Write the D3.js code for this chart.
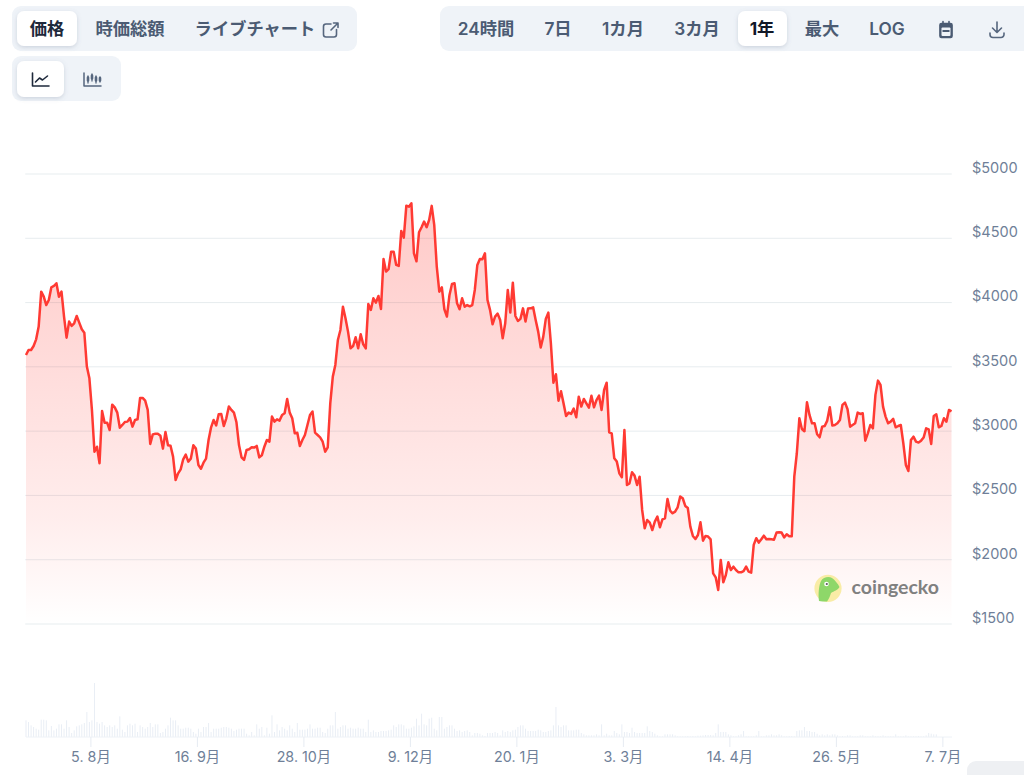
<!DOCTYPE html>
<html lang="ja">
<head>
<meta charset="utf-8">
<script src="https://cdn.jsdelivr.net/npm/d3@7"></script>
<style>
html,body{margin:0;padding:0;background:#fff;overflow:hidden}
svg{display:block}
text{font-family:Inter,"Noto Sans CJK JP",sans-serif}
</style>
</head>
<body>
<svg id="c" width="1024" height="775"></svg>
<script>
const prices = [3592,3631,3631,3662,3714,3813,4085,4046,3981,4020,
4119,4129,4150,4046,4085,3891,3727,3852,3818,3839,
3896,3844,3792,3766,3502,3411,3165,2840,2879,2750,
3157,3066,3066,3009,3206,3185,3144,3027,3048,3071,
3074,3102,3035,3087,3092,3258,3258,3237,3165,2900,
2975,2980,2980,2965,2864,2993,2890,2887,2802,2620,
2672,2703,2781,2817,2763,2786,2890,2864,2737,2708,
2755,2786,2931,3030,3087,3045,3131,3134,3040,3100,
3191,3165,3144,3069,2892,2796,2776,2854,2859,2874,
2872,2885,2796,2812,2879,2931,2918,3113,3074,3092,
3082,3126,3139,3250,3144,3100,2983,2988,2885,2931,
2970,3048,3126,3152,2988,2970,2952,
2918,2840,2874,3216,3424,3515,3709,3787,3968,3878,
3774,3644,3662,3730,3644,3753,3675,3644,3989,3943,
4033,4000,4051,3950,4339,4241,4261,4396,4396,4293,
4285,4557,4505,4754,4746,4772,4383,4321,4547,4586,
4630,4586,4643,4752,4604,4280,4085,4119,3948,3891,
4057,4145,4150,3994,3948,4033,3968,3981,3971,3981,
4098,4293,4339,4337,4383,4020,3943,3831,3891,3914,
3865,3722,3839,4098,3922,4155,3896,3857,3873,3955,
3852,3953,3955,3963,3865,3774,3650,3735,3873,3922,
3683,3377,3442,3237,3310,3216,3118,3144,3134,3175,
3108,3268,3191,3250,3216,3183,3276,3185,3242,3276,
3165,3320,3377,2991,2983,2789,2763,2672,2641,3009,
2581,2594,2680,2654,2581,2646,
2387,2244,2309,2288,2231,2296,2335,2252,2314,2322,
2473,2382,2361,2374,2408,2491,2478,2418,2402,2257,
2185,2161,2192,2291,2148,2185,2180,2159,1894,1863,
1765,1998,1824,1881,1980,1920,1946,1920,1902,1902,
1912,1946,1907,1899,2115,2167,2133,2159,2187,2159,
2161,2159,2156,2211,2213,2211,2174,2198,2182,2182,
2646,2828,3100,3017,2999,3224,3126,3061,3061,2976,
2952,3035,3040,3082,3186,3043,3048,3061,3087,3204,
3222,3170,3035,3048,3061,3144,3134,3139,2926,2983,
3048,3022,3282,3393,3359,3191,3113,3061,3074,3095,
3030,3040,3048,2906,2737,2690,2931,2957,2918,2911,
2926,2950,3022,3014,2900,3118,3131,3030,3040,3100,
3074,3165,3154];

const volumes = [50,45,35,30,25,22,52,52,50,20,33,20,25,38,38,25,50,30,12,20,
32,35,38,42,75,45,50,162,45,40,45,35,30,35,30,35,25,62,22,15,
35,40,35,40,15,35,30,25,30,42,30,38,38,12,15,25,35,58,50,50,
35,25,25,28,28,25,15,10,25,15,30,30,42,15,25,25,25,28,30,30,
28,25,18,22,25,25,25,10,5,15,5,38,25,30,5,28,10,65,15,38,
20,30,25,20,35,25,15,42,22,22,22,25,38,25,25,28,28,15,12,25,
35,35,75,25,30,35,35,25,28,25,25,28,25,25,15,52,15,20,15,15,
18,18,18,20,22,35,30,38,38,35,25,25,28,32,55,35,70,38,35,55,
58,25,20,60,60,25,30,35,35,25,18,20,15,18,20,15,5,12,12,10,
5,3,12,12,12,15,12,5,20,15,18,15,20,22,30,35,35,25,18,18,18,18,
22,20,15,15,18,20,35,90,35,30,35,35,20,20,20,22,22,12,8,5,
5,5,5,8,5,38,5,10,5,5,18,12,8,38,15,15,12,28,15,12,
12,12,12,32,18,15,10,5,2,2,8,8,8,8,5,2,2,2,2,3,
2,3,2,4,4,5,6,6,6,5,12,38,15,15,15,8,5,2,2,5,
8,18,2,2,2,2,5,18,2,2,5,5,8,5,5,8,5,2,2,3,
3,2,18,20,20,30,18,18,15,15,10,5,8,5,8,5,8,8,5,2,
3,2,5,5,2,2,2,5,5,2,2,2,5,2,2,2,5,2,2,2,
2,8,2,2,2,5,2,2,2,2,3,2,2,5,12,10,8,8];

const priceTicks = [1500,2000,2500,3000,3500,4000,4500,5000];
const dateTickDays = [25.4,67.4,109.4,151.4,193.4,235.4,277.4,319.4,361.4];
const dateTickLabels = ["5. 8月","16. 9月","28. 10月","9. 12月","20. 1月","3. 3月","14. 4月","26. 5月","7. 7月"];
const rangeButtons = ["24時間","7日","1カ月","3カ月","1年","最大","LOG"];
const rangeCenters = [486,558,623,697,762,822,887];
const viewButtons = ["価格","時価総額","ライブチャート"];
const viewCenters = [47,130,255];

const svg = d3.select("#c");
const defs = svg.append("defs");
const grad = defs.append("linearGradient").attr("id","fill").attr("gradientUnits","userSpaceOnUse")
  .attr("x1",0).attr("x2",0).attr("y1",204).attr("y2",624);
grad.append("stop").attr("offset",0).attr("stop-color","#ff3a33").attr("stop-opacity",.27);
grad.append("stop").attr("offset",.75).attr("stop-color","#ff3a33").attr("stop-opacity",.09);
grad.append("stop").attr("offset",1).attr("stop-color","#ff3a33").attr("stop-opacity",0);
const sh = defs.append("filter").attr("id","sh").attr("x","-20%").attr("y","-20%").attr("width","140%").attr("height","150%");
sh.append("feDropShadow").attr("dx",0).attr("dy",1.5).attr("stdDeviation",2).attr("flood-color","#64748b").attr("flood-opacity",.25);

const x = d3.scaleLinear().domain([0,prices.length-1]).range([26,951.5]);
const y = d3.scaleLinear().domain([1500,5000]).range([624,174]);
const v = d3.scaleLinear().domain([0,d3.max(volumes)]).range([737,683]);

function box(x0,y0,w,h,r,fill,filter){
  const b = svg.append("rect").attr("x",x0).attr("y",y0).attr("width",w).attr("height",h).attr("rx",r).attr("fill",fill);
  if(filter) b.attr("filter","url(#sh)");
}
box(12,6,345,45,9,"#eff3f8");
box(12,56,109,45,9,"#eff3f8");
box(440,6,600,45,9,"#eff3f8");
box(17,11,60,35,7,"#fff",true);
box(17,61,47,36,7,"#fff",true);
box(738,11,49,35,7,"#fff",true);
box(967,761,70,30,9,"#eef0f3");

svg.append("g").selectAll("text").data(viewButtons).join("text")
  .attr("x",(d,i)=>viewCenters[i]).attr("y",35).attr("text-anchor","middle")
  .attr("font-size",17.3).attr("font-weight",(d,i)=>i===0?700:600)
  .attr("fill",(d,i)=>i===0?"#1e293b":"#4b5b73").text(d=>d);
svg.append("g").selectAll("text").data(rangeButtons).join("text")
  .attr("x",(d,i)=>rangeCenters[i]).attr("y",35).attr("text-anchor","middle")
  .attr("font-size",17.3).attr("font-weight",(d,i)=>i===4?700:600)
  .attr("fill",(d,i)=>i===4?"#111827":"#4b5b73").text(d=>d);

function icon(d,color,w,fill){
  svg.append("path").attr("d",d).attr("fill",fill||"none").attr("stroke",color)
    .attr("stroke-width",w).attr("stroke-linecap","round").attr("stroke-linejoin","round");
}
icon("M331 24h-5a2.5 2.5 0 0 0-2.5 2.5v8a2.5 2.5 0 0 0 2.5 2.5h8a2.5 2.5 0 0 0 2.5-2.5v-5M331 30l7-7M333.5 23h4.5v4.5","#56667e",1.6);
icon("M32.5 73v13h16.5","#1e293b",1.6);
icon("M35.5 82l4-4 3 2 5-4","#1e293b",1.6);
icon("M84 73v13h17","#56667e",1.5);
icon("M88 76v7M92 74v7M96 76v7M100 77v5","#56667e",1.3);
icon("M88 77.5v3M92 75.5v3M96 77.5v3M100 78v2.5","#56667e",2.6);
icon("M940 25a1.5 1.5 0 0 1 1.5-1.5h9a1.5 1.5 0 0 1 1.5 1.5v11a1.5 1.5 0 0 1-1.5 1.5h-9a1.5 1.5 0 0 1-1.5-1.5z","#4b5b73",1.7,"#4b5b73");
svg.append("rect").attr("x",941.5).attr("y",27.5).attr("width",9).attr("height",8.5).attr("rx",1).attr("fill","#eff3f8");
svg.append("rect").attr("x",942.5).attr("y",30).attr("width",7).attr("height",2).attr("fill","#4b5b73");
icon("M943 21.5v3M949 21.5v3","#4b5b73",1.6);
icon("M997 22v10M992.5 28l4.5 4.5 4.5-4.5M990 33v1.5a3 3 0 0 0 3 3h8a3 3 0 0 0 3-3V33","#56667e",1.6);

svg.append("g").selectAll("line").data(priceTicks).join("line")
  .attr("x1",25).attr("x2",952).attr("y1",d=>y(d)).attr("y2",d=>y(d))
  .attr("stroke","#64829f").attr("stroke-opacity",.12).attr("stroke-width",1);

const area = d3.area().x((d,i)=>x(i)).y0(y(1500)).y1(d=>y(d)).curve(d3.curveLinear);
const line = d3.line().x((d,i)=>x(i)).y(d=>y(d)).curve(d3.curveLinear);
svg.append("path").datum(prices).attr("d",area).attr("fill","url(#fill)");
svg.append("g").selectAll("line").data(priceTicks).join("line")
  .attr("x1",26).attr("x2",951).attr("y1",d=>y(d)).attr("y2",d=>y(d))
  .attr("stroke","#64748b").attr("stroke-opacity",.03);
svg.append("path").datum(prices).attr("d",line).attr("fill","none")
  .attr("stroke","#ff3a33").attr("stroke-width",2.5).attr("stroke-linejoin","round");

svg.append("g").selectAll("rect").data(volumes).join("rect")
  .attr("x",(d,i)=>x(i)-.5).attr("width",1)
  .attr("y",d=>v(d)).attr("height",d=>737-v(d)).attr("fill","#e9eef5");
svg.append("line").attr("x1",26).attr("x2",952).attr("y1",737).attr("y2",737)
  .attr("stroke","#eef2f7").attr("stroke-width",1);

const xAxis = d3.axisBottom(x).tickValues(dateTickDays)
  .tickFormat((d,i)=>dateTickLabels[i]).tickSize(10).tickPadding(5);
const gx = svg.append("g").attr("transform","translate(0,737)").call(xAxis);
gx.select(".domain").remove();
gx.selectAll(".tick line").attr("stroke","#e6ebf2");
gx.selectAll(".tick text").attr("fill","#6f7f98").attr("font-size",14.3).attr("font-family",'Inter,"Noto Sans CJK JP",sans-serif');

const yAxis = d3.axisRight(y).tickValues(priceTicks).tickFormat(d=>"$"+d).tickSize(0).tickPadding(0);
const gy = svg.append("g").attr("transform","translate(972,-6.3)").call(yAxis);
gy.select(".domain").remove();
gy.selectAll(".tick text").attr("fill","#6f7f98").attr("font-size",14.5).attr("font-family",'Inter,sans-serif');

svg.append("circle").attr("cx",828).attr("cy",588.3).attr("r",13.6).attr("fill","#f9eca6");
svg.append("path").attr("d","M819 601C818 594 819 585 821 581C823 577 829 576 832 578C835 580 838 584 839.5 587C838 590 834 591 831 593C830 596 829 599 827 601.5C824 601.5 821 601.5 819 601Z").attr("fill","#8ed769");
svg.append("circle").attr("cx",826.5).attr("cy",584).attr("r",2.3).attr("fill","#fff");
svg.append("circle").attr("cx",826.8).attr("cy",584).attr("r",1.1).attr("fill","#555");
svg.append("text").attr("x",851.5).attr("y",594).attr("fill","#808080")
  .attr("font-size",19.5).attr("font-weight",700).style("font-family","Lato,Inter,sans-serif").text("coingecko");
</script>
</body>
</html>
